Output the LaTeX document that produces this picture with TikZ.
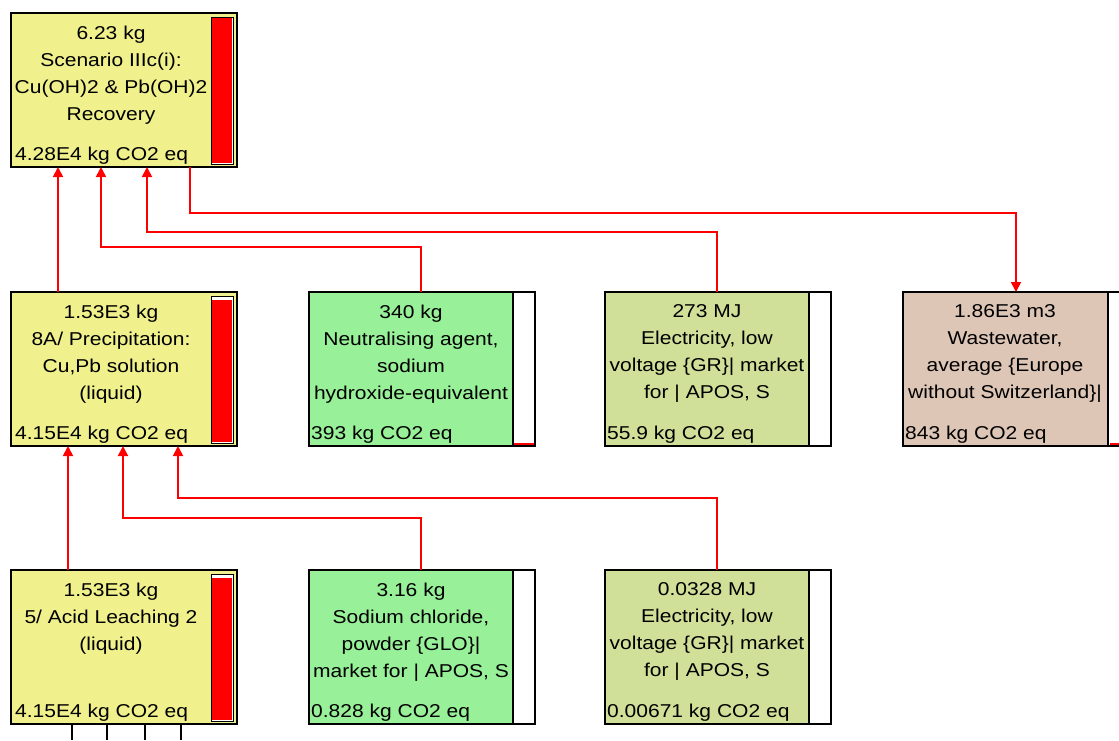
\documentclass[tikz,border=0pt]{standalone}
\usepackage{fontspec}
\setmainfont{Liberation Sans}[FakeStretch=1.13]
\usepackage{tikz}
\usetikzlibrary{arrows.meta,positioning,calc}
\definecolor{procyellow}{RGB}{240,240,140}
\definecolor{matgreen}{RGB}{152,240,152}
\definecolor{elecgreen}{RGB}{208,224,152}
\definecolor{wastebrown}{RGB}{222,198,182}

\begin{document}
\begin{tikzpicture}[x=1pt,y=-1pt,
    procbox/.style={draw=black,line width=1.5pt,minimum width=226pt,minimum height=154pt,
                    inner sep=0pt,outer sep=0pt,anchor=north west},
    boxtitle/.style={anchor=north,inner sep=0pt,align=center,font=\fontsize{18.6}{27}\selectfont},
    boxco2/.style={anchor=base west,inner sep=0pt,font=\fontsize{18.6}{27}\selectfont},
    flow/.style={draw=red,line width=1.8pt,-{Triangle[length=10pt,width=10pt]}},
    link/.style={draw=black,line width=1.5pt},
    barframe/.style={draw=black,line width=1pt,fill=white}]
    \clip (0,0) rectangle (1119,740);

    % process boxes
    \node[procbox,fill=procyellow] (scen) at (11,13) {};
    \node[boxtitle] (scen-t) at ($(scen.north west)+(100,12.5)$)
        {6.23 kg\\Scenario IIIc(i):\\Cu(OH)2 \& Pb(OH)2\\Recovery};
    \node[boxco2] (scen-c) at ($(scen.north west)+(4,147)$) {4.28E4 kg CO2 eq};
    \draw[barframe] ($(scen.north west)+(200,4)$) rectangle ($(scen.north west)+(222,151)$);
    \fill[red] ($(scen.north west)+(201,5)$) rectangle ($(scen.north west)+(221,150)$);

    \node[procbox,fill=procyellow] (precip) at (11,292) {};
    \node[boxtitle] (precip-t) at ($(precip.north west)+(100,12.5)$)
        {1.53E3 kg\\8A/ Precipitation:\\Cu,Pb solution\\(liquid)};
    \node[boxco2] (precip-c) at ($(precip.north west)+(4,147)$) {4.15E4 kg CO2 eq};
    \draw[barframe] ($(precip.north west)+(200,4)$) rectangle ($(precip.north west)+(222,151)$);
    \fill[red] ($(precip.north west)+(201,8)$) rectangle ($(precip.north west)+(221,150)$);

    \node[procbox,fill=procyellow] (leach) at (11,570) {};
    \node[boxtitle] (leach-t) at ($(leach.north west)+(100,12.5)$)
        {1.53E3 kg\\5/ Acid Leaching 2\\(liquid)};
    \node[boxco2] (leach-c) at ($(leach.north west)+(4,147)$) {4.15E4 kg CO2 eq};
    \draw[barframe] ($(leach.north west)+(200,4)$) rectangle ($(leach.north west)+(222,151)$);
    \fill[red] ($(leach.north west)+(201,8)$) rectangle ($(leach.north west)+(221,150)$);

    % material and energy boxes
    \node[procbox,fill=matgreen] (naoh) at (309,292) {};
    \fill[white] ($(naoh.north west)+(204,0.75)$) rectangle ($(naoh.south east)+(-0.75,-0.75)$);
    \draw[link] ($(naoh.north west)+(204,0)$) -- ($(naoh.south west)+(204,0)$);
    \draw[red,line width=2pt] ($(naoh.south west)+(205,-1.8)$) -- ($(naoh.south east)+(-0.75,-1.8)$);
    \node[boxtitle] (naoh-t) at ($(naoh.north west)+(102,12.5)$)
        {340 kg\\Neutralising agent,\\sodium\\hydroxide-equivalent};
    \node[boxco2] (naoh-c) at ($(naoh.north west)+(2,147)$) {393 kg CO2 eq};

    \node[procbox,fill=elecgreen] (elec) at (605,292) {};
    \fill[white] ($(elec.north west)+(204,0.75)$) rectangle ($(elec.south east)+(-0.75,-0.75)$);
    \draw[link] ($(elec.north west)+(204,0)$) -- ($(elec.south west)+(204,0)$);
    \node[boxtitle] (elec-t) at ($(elec.north west)+(102,12.5)$)
        {273 MJ\\Electricity, low\\voltage \{GR\}| market\\for | APOS, S};
    \node[boxco2] (elec-c) at ($(elec.north west)+(2,147)$) {55.9 kg CO2 eq};

    \node[procbox,fill=wastebrown] (waste) at (903,292) {};
    \fill[white] ($(waste.north west)+(205,0.75)$) rectangle ($(waste.south east)+(-0.75,-0.75)$);
    \draw[link] ($(waste.north west)+(205,0)$) -- ($(waste.south west)+(205,0)$);
    \draw[red,line width=2pt] ($(waste.south west)+(207,-1.8)$) -- ($(waste.south east)+(-0.75,-1.8)$);
    \node[boxtitle] (waste-t) at ($(waste.north west)+(102,12.5)$)
        {1.86E3 m3\\Wastewater,\\average \{Europe\\without Switzerland\}|};
    \node[boxco2] (waste-c) at ($(waste.north west)+(2,147)$) {843 kg CO2 eq};

    \node[procbox,fill=matgreen] (nacl) at (309,570) {};
    \fill[white] ($(nacl.north west)+(204,0.75)$) rectangle ($(nacl.south east)+(-0.75,-0.75)$);
    \draw[link] ($(nacl.north west)+(204,0)$) -- ($(nacl.south west)+(204,0)$);
    \node[boxtitle] (nacl-t) at ($(nacl.north west)+(102,12.5)$)
        {3.16 kg\\Sodium chloride,\\powder \{GLO\}|\\market for | APOS, S};
    \node[boxco2] (nacl-c) at ($(nacl.north west)+(2,147)$) {0.828 kg CO2 eq};

    \node[procbox,fill=elecgreen] (elecb) at (605,570) {};
    \fill[white] ($(elecb.north west)+(204,0.75)$) rectangle ($(elecb.south east)+(-0.75,-0.75)$);
    \draw[link] ($(elecb.north west)+(204,0)$) -- ($(elecb.south west)+(204,0)$);
    \node[boxtitle] (elecb-t) at ($(elecb.north west)+(102,12.5)$)
        {0.0328 MJ\\Electricity, low\\voltage \{GR\}| market\\for | APOS, S};
    \node[boxco2] (elecb-c) at ($(elecb.north west)+(2,147)$) {0.00671 kg CO2 eq};

    % flows
    \draw[flow] ($(precip.north west)+(47,0)$) -- ($(scen.south west)+(47,0)$);
    \draw[flow] ($(naoh.north west)+(112,0)$) -- ++(0,-45) -| ($(scen.south west)+(90,0)$);
    \draw[flow] ($(elec.north west)+(112,0)$) -- ++(0,-60) -| ($(scen.south west)+(136,0)$);
    \draw[flow] ($(scen.south west)+(179,0)$) -- ++(0,46) -| ($(waste.north west)+(113,0)$);
    \draw[flow] ($(leach.north west)+(57,0)$) -- ($(precip.south west)+(57,0)$);
    \draw[flow] ($(nacl.north west)+(112,0)$) -- ++(0,-52) -| ($(precip.south west)+(112,0)$);
    \draw[flow] ($(elecb.north west)+(112,0)$) -- ++(0,-72) -| ($(precip.south west)+(167,0)$);

    % links leaving the picture
    \foreach \i/\x in {1/72,2/107,3/145,4/181} {
        \coordinate (out\i) at (\x,740);
        \draw[link] (leach.south -| out\i) -- (out\i);
    }
\end{tikzpicture}
\end{document}
